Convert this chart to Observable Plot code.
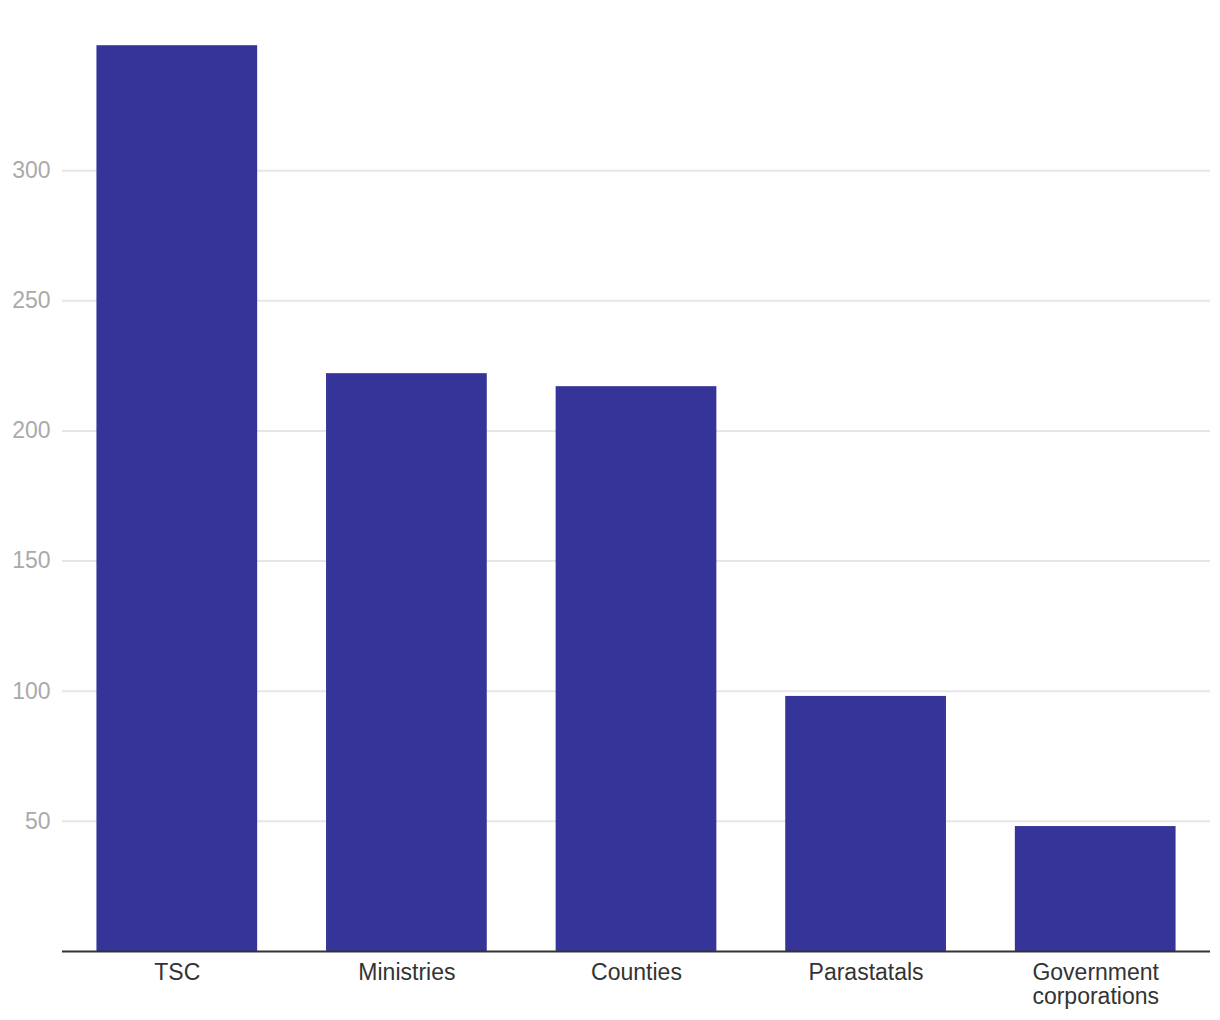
<!DOCTYPE html>
<html>
<head>
<meta charset="utf-8">
<script src="https://cdn.jsdelivr.net/npm/d3@7"></script>
<script src="https://cdn.jsdelivr.net/npm/@observablehq/plot@0.6"></script>
<style>
  html, body { margin: 0; padding: 0; background: #fff; }
  #chart { width: 1220px; height: 1020px; }
</style>
</head>
<body>
<div id="chart"></div>
<script>
const categories = ["TSC", "Ministries", "Counties", "Parastatals", "Government corporations"];
const tickLabels = ["TSC", "Ministries", "Counties", "Parastatals", "Government\ncorporations"];
const values = [348, 222, 217, 98, 48];
const yTicks = [50, 100, 150, 200, 250, 300];

const data = categories.map((c, i) => ({category: c, value: values[i]}));
const labelOf = new Map(categories.map((c, i) => [c, tickLabels[i]]));

const chart = Plot.plot({
  width: 1220,
  height: 1020,
  marginLeft: 62,
  marginRight: 10,
  marginTop: 40,
  marginBottom: 69,
  style: {fontFamily: "'Liberation Sans', Arial, Helvetica, sans-serif", fontSize: "23px", background: "#fff"},
  x: {domain: categories, paddingInner: 0.3, paddingOuter: 0.15, round: false, label: null},
  y: {domain: [0, 350], label: null},
  marks: [
    Plot.gridY(yTicks, {stroke: "#e6e6e6", strokeOpacity: 1, strokeWidth: 2}),
    Plot.barY(data, {x: "category", y: "value", fill: "#353498"}),
    Plot.ruleY([0], {stroke: "#333", strokeWidth: 2}),
    Plot.axisY(yTicks, {tickSize: 0, tickPadding: 12, fill: "#aaa", fontSize: 23, label: null}),
    Plot.axisX({tickSize: 0, tickPadding: 11, fill: "#333", fontSize: 23, lineHeight: 1.05, label: null, tickFormat: (d) => labelOf.get(d)})
  ]
});
document.getElementById("chart").append(chart);
</script>
</body>
</html>
